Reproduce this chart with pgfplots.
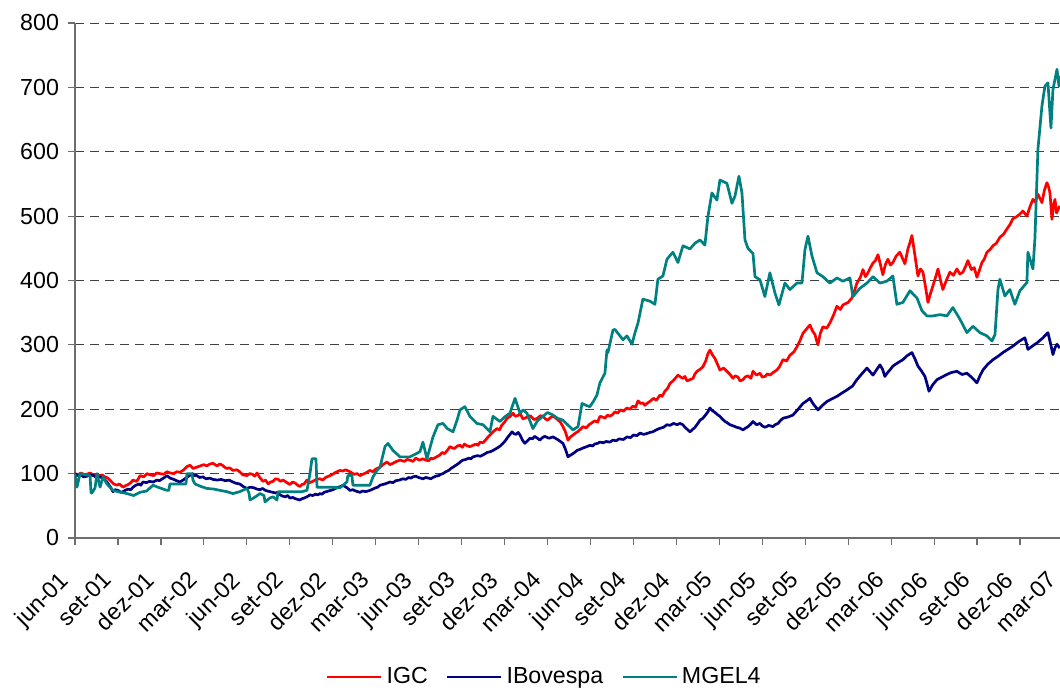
\documentclass[border=0pt]{standalone}
\usepackage{fontspec}
\setmainfont{Liberation Sans}
\usepackage{pgfplots}
\pgfplotsset{compat=1.18}
\definecolor{igc}{RGB}{255,0,0}
\definecolor{ibov}{RGB}{0,0,128}
\definecolor{mgel}{RGB}{0,128,128}
\definecolor{axgray}{RGB}{110,110,110}
\begin{document}
\begin{tikzpicture}
\path[use as bounding box] (-37.5pt,-77pt) rectangle (492.5pt,269pt);
\begin{axis}[
  scale only axis, width=494pt, height=257.5pt,
  xmin=0, xmax=69, ymin=0, ymax=800,
  axis lines*=left,
  axis line style={axgray, line width=0.6pt, -},
  tick style={axgray, line width=0.6pt},
  tick align=outside, major tick length=3.5pt,
  ytick={0,100,...,800},
  xtick={0,3,...,69},
  xticklabels={jun-01,set-01,dez-01,mar-02,jun-02,set-02,dez-02,mar-03,jun-03,set-03,dez-03,mar-04,jun-04,set-04,dez-04,mar-05,jun-05,set-05,dez-05,mar-06,jun-06,set-06,dez-06,mar-07},
  /pgf/number format/assume math mode=true,
  tick label style={font=\fontsize{11.6}{13}\selectfont},
  yticklabel style={xshift=-1pt},
  xticklabel style={xshift=-8.4pt, yshift=-10.8pt, rotate=45, anchor=north east, inner sep=1pt},
  ymajorgrids,
  major grid style={black!75, line width=0.5pt, dash pattern=on 4.5pt off 3pt},
  legend style={at={(0.476,-0.27)}, anchor=center, draw=none, fill=none,
    legend columns=-1, font=\fontsize{11.6}{13}\selectfont,
    /tikz/every even column/.append style={column sep=7pt}},
  legend image code/.code={\draw[#1] (0pt,0pt) -- (27pt,0pt);},
  every axis plot/.append style={line width=1.35pt, line join=round},
]
\addplot[igc] coordinates {
(0,100) (0.2,98) (0.4,101) (0.6,99) (0.84,99) (1.05,101) (1.3,98) (1.5,99) (1.75,97) (1.9,98) (2.1,95) (2.3,93) (2.44,90) (2.7,84) (2.93,82) (3.1,84) (3.35,79) (3.5,81) (3.7,83) (3.9,86)
(4.05,90) (4.3,88) (4.45,93) (4.54,97) (4.8,95) (5.03,100) (5.25,98) (5.5,97) (5.7,101) (5.94,100) (6.2,99) (6.42,103) (6.65,101) (6.9,100) (7.1,103) (7.33,102) (7.6,106) (7.82,111) (8.03,113) (8.25,108)
(8.5,110) (8.75,112) (9.0,114) (9.2,112) (9.43,115) (9.64,116) (9.92,112) (10.1,115) (10.3,113) (10.45,110) (10.61,108) (10.8,109) (11.03,105) (11.31,106) (11.5,103) (11.73,98) (12.01,97) (12.2,100) (12.4,99) (12.55,96)
(12.71,101) (12.9,94) (13.13,88) (13.3,90) (13.5,84) (13.65,87) (13.83,88) (14.0,92) (14.2,91) (14.35,88) (14.53,90) (14.8,86) (15.01,83) (15.2,87) (15.4,85) (15.55,82) (15.71,80) (15.85,83) (16.0,84) (16.2,90)
(16.4,86) (16.6,88) (16.85,91) (17.11,92) (17.3,90) (17.5,94) (17.81,97) (18.0,99) (18.2,102) (18.51,105) (18.7,104) (18.9,106) (19.2,103) (19.5,99) (19.7,100) (19.9,97) (20.1,99) (20.3,101) (20.6,105) (20.8,103)
(21.0,107) (21.3,110) (21.5,114) (21.79,118) (22.0,114) (22.2,116) (22.45,119) (22.7,121) (23.0,119) (23.2,122) (23.39,121) (23.6,119) (23.8,124) (24.05,121) (24.3,123) (24.5,121) (24.7,120) (24.85,124) (25.0,123) (25.25,126)
(25.49,129) (25.65,133) (25.8,131) (26.0,136) (26.19,142) (26.35,140) (26.5,139) (26.7,143) (26.89,144) (27.05,141) (27.2,146) (27.4,143) (27.58,142) (27.8,144) (28.0,146) (28.15,144) (28.28,149) (28.5,148) (28.7,153) (28.85,157)
(28.98,160) (29.2,165) (29.47,170) (29.65,168) (29.8,175) (30.0,180) (30.17,186) (30.4,189) (30.59,194) (30.75,189) (30.9,190) (31.1,193) (31.28,185) (31.5,187) (31.8,190) (32.05,184) (32.3,186) (32.5,190) (32.7,189) (32.85,185)
(33.0,183) (33.2,187) (33.38,189) (33.55,187) (33.7,184) (33.9,180) (34.08,173) (34.25,165) (34.43,152) (34.6,157) (34.78,160) (34.95,163) (35.1,165) (35.3,169) (35.47,173) (35.7,171) (35.9,176) (36.1,179) (36.3,182) (36.5,180)
(36.66,189) (36.85,188) (37.0,186) (37.2,191) (37.36,189) (37.55,192) (37.71,196) (37.9,194) (38.1,199) (38.3,197) (38.55,202) (38.75,200) (38.97,205) (39.15,203) (39.32,213) (39.5,209) (39.66,210) (39.8,206) (39.94,209) (40.2,213)
(40.4,217) (40.6,214) (40.85,222) (41.0,220) (41.2,228) (41.4,233) (41.55,240) (41.8,245) (42.11,253) (42.3,250) (42.46,248) (42.6,251) (42.74,244) (42.95,246) (43.16,248) (43.3,255) (43.44,259) (43.65,262) (43.85,266) (44.05,275)
(44.2,286) (44.34,292) (44.5,285) (44.69,279) (44.85,271) (45.04,261) (45.3,264) (45.53,259) (45.75,254) (45.95,248) (46.1,252) (46.3,250) (46.45,244) (46.65,246) (46.8,250) (47.0,252) (47.2,248) (47.35,259) (47.6,253) (47.84,256)
(48.0,250) (48.2,251) (48.35,255) (48.53,253) (48.75,257) (49.02,261) (49.2,266) (49.44,277) (49.7,275) (49.93,284) (50.2,289) (50.42,297) (50.6,305) (50.84,318) (51.1,325) (51.33,331) (51.5,322) (51.68,316) (51.8,306) (51.89,300)
(52.05,318) (52.23,328) (52.5,326) (52.72,334) (52.95,345) (53.21,360) (53.45,355) (53.63,362) (54.0,366) (54.26,373) (54.45,385) (54.61,396) (54.85,405) (55.03,417) (55.2,406) (55.38,412) (55.55,420) (55.73,427) (55.9,431) (56.08,440)
(56.25,425) (56.42,409) (56.6,425) (56.77,433) (56.95,424) (57.12,428) (57.35,438) (57.61,444) (57.8,434) (57.96,426) (58.17,449) (58.3,458) (58.45,470) (58.66,439) (58.87,407) (59.05,418) (59.22,413) (59.4,390) (59.57,366) (59.75,380)
(59.92,392) (60.1,405) (60.27,418) (60.45,400) (60.61,386) (60.85,400) (61.1,413) (61.35,408) (61.59,418) (61.8,410) (62.01,413) (62.2,422) (62.36,431) (62.6,417) (62.8,420) (62.99,405) (63.15,415) (63.34,428) (63.5,433) (63.69,444)
(63.9,448) (64.11,454) (64.35,458) (64.59,467) (64.85,472) (65.08,480) (65.3,487) (65.5,496) (65.75,499) (65.99,503) (66.2,508) (66.48,500) (66.7,515) (66.9,526) (67.05,522) (67.25,534) (67.4,527) (67.53,521) (67.7,540) (67.88,552)
(68.0,545) (68.09,536) (68.23,495) (68.35,518) (68.44,526) (68.55,505) (68.65,510) (68.78,516)
};
\addlegendentry{IGC}
\addplot[ibov] coordinates {
(0,100) (0.2,97) (0.4,98) (0.6,95) (0.84,96) (1.05,98) (1.3,97) (1.5,94) (1.75,95) (2.0,92) (2.23,87) (2.45,80) (2.65,72) (2.8,75) (3.0,74) (3.2,71) (3.35,72) (3.5,74) (3.7,76) (3.9,75)
(4.05,79) (4.25,82) (4.5,84) (4.6,82) (4.75,87) (5.0,86) (5.2,88) (5.45,87) (5.73,90) (5.9,89) (6.1,92) (6.25,94) (6.42,97) (6.65,93) (6.9,91) (7.1,89) (7.33,87) (7.55,90) (7.8,94) (8.0,97)
(8.24,100) (8.35,97) (8.5,97) (8.7,94) (8.94,95) (9.15,92) (9.4,93) (9.65,91) (9.92,90) (10.2,91) (10.5,89) (10.75,90) (11.03,87) (11.25,85) (11.5,84) (11.75,80) (12.01,77) (12.25,79) (12.5,78) (12.7,76)
(12.92,75) (13.1,77) (13.3,74) (13.45,73) (13.62,72) (13.8,71) (14.0,70) (14.15,71) (14.32,67) (14.5,65) (14.7,64) (14.85,66) (15.01,62) (15.2,63) (15.4,61) (15.55,60) (15.71,59) (15.85,61) (16.0,62) (16.2,64)
(16.41,67) (16.6,66) (16.8,68) (16.95,67) (17.11,69) (17.25,68) (17.4,71) (17.7,73) (18.02,75) (18.2,77) (18.4,79) (18.55,80) (18.72,82) (18.85,80) (19.0,78) (19.2,74) (19.4,75) (19.6,73) (19.75,72) (19.9,71)
(20.1,73) (20.3,72) (20.45,73) (20.6,74) (20.8,76) (21.0,78) (21.15,79) (21.3,82) (21.65,84) (22.0,87) (22.2,86) (22.4,89) (22.65,90) (22.91,92) (23.1,91) (23.3,94) (23.45,93) (23.6,95) (23.8,96) (24.0,94)
(24.15,93) (24.3,92) (24.5,94) (24.7,93) (24.85,92) (25.0,94) (25.2,96) (25.4,97) (25.55,99) (25.7,100) (25.9,103) (26.1,105) (26.25,108) (26.4,110) (26.6,113) (26.8,116) (26.95,119) (27.09,121) (27.3,122) (27.5,124)
(27.65,123) (27.79,126) (27.95,127) (28.1,128) (28.3,127) (28.49,129) (28.65,131) (28.8,133) (29.0,134) (29.19,136) (29.35,138) (29.5,140) (29.7,143) (29.89,147) (30.05,151) (30.2,156) (30.35,160) (30.52,165) (30.65,162) (30.8,161)
(30.95,164) (31.08,160) (31.25,152) (31.42,147) (31.6,151) (31.77,155) (31.95,154) (32.1,158) (32.3,155) (32.47,152) (32.65,156) (32.8,158) (33.1,155) (33.38,157) (33.55,155) (33.7,153) (33.9,150) (34.08,147) (34.25,138) (34.43,126)
(34.55,128) (34.7,130) (34.9,133) (35.06,136) (35.3,138) (35.5,140) (35.75,142) (35.96,144) (36.15,143) (36.3,146) (36.5,147) (36.66,149) (36.9,148) (37.1,150) (37.35,149) (37.57,152) (37.8,151) (38.0,154) (38.3,153) (38.55,157)
(38.8,156) (39.0,160) (39.25,159) (39.46,163) (39.7,161) (39.9,162) (40.15,164) (40.36,165) (40.6,168) (40.8,170) (41.1,172) (41.34,176) (41.55,175) (41.8,178) (42.05,176) (42.25,178) (42.45,176) (42.6,172) (42.8,168) (42.95,165)
(43.1,168) (43.3,172) (43.5,178) (43.65,183) (43.85,186) (44.0,190) (44.2,196) (44.34,202) (44.5,198) (44.7,195) (44.85,192) (45.04,189) (45.2,185) (45.4,181) (45.55,179) (45.74,176) (46.0,174) (46.2,172) (46.4,171) (46.65,168)
(46.85,171) (47.0,173) (47.2,177) (47.35,181) (47.6,176) (47.84,178) (48.0,174) (48.2,172) (48.45,175) (48.74,173) (48.9,176) (49.1,178) (49.25,182) (49.44,186) (49.8,188) (50.14,191) (50.3,195) (50.5,200) (50.65,204) (50.84,209)
(51.1,213) (51.33,217) (51.45,212) (51.6,207) (51.75,203) (51.89,199) (52.2,206) (52.51,212) (52.85,216) (53.21,220) (53.55,225) (53.91,230) (54.1,233) (54.3,236) (54.45,241) (54.61,246) (54.95,255) (55.31,264) (55.5,259) (55.73,253)
(56.0,262) (56.22,269) (56.4,262) (56.56,251) (56.75,257) (56.91,261) (57.12,267) (57.45,272) (57.82,277) (58.1,283) (58.45,288) (58.65,279) (58.87,267) (59.1,260) (59.36,251) (59.5,240) (59.64,228) (59.9,238) (60.2,246) (60.55,250)
(60.89,254) (61.2,257) (61.59,259) (61.95,254) (62.29,256) (62.65,249) (62.99,241) (63.2,252) (63.41,261) (63.75,270) (64.11,277) (64.45,282) (64.8,288) (65.15,293) (65.5,298) (65.9,305) (66.34,311) (66.45,302) (66.55,293) (66.85,298)
(67.18,303) (67.55,310) (67.95,319) (68.1,305) (68.3,285) (68.45,296) (68.58,301) (68.78,295)
};
\addlegendentry{IBovespa}
\addplot[mgel] coordinates {
(0,100) (0.14,79) (0.35,100) (1.05,97) (1.12,70) (1.19,70) (1.4,78) (1.54,100) (1.75,79) (1.96,95)
(2.23,84) (2.65,74) (3.0,72) (3.63,69) (4.1,66) (4.54,71) (5.0,73) (5.45,82) (5.9,78) (6.42,74)
(6.55,74) (6.63,84) (7.54,84) (7.75,84) (7.82,100) (8.17,100) (8.24,90) (8.38,84) (8.8,80) (9.22,77)
(9.7,76) (10.13,74) (10.6,72) (11.03,69) (11.5,72) (12.01,77) (12.15,70) (12.22,59) (12.6,64) (12.92,69)
(13.2,66) (13.27,56) (13.6,62) (13.83,64) (14.11,59) (14.18,72) (15.01,72) (15.85,72) (16.2,74) (16.41,100)
(16.55,123) (16.83,123) (16.9,79) (17.81,79) (18.5,78) (18.99,87) (19.06,97) (19.34,97) (19.41,82) (20.6,82)
(20.81,95) (21.09,105) (21.3,110) (21.65,142) (21.86,147) (22.21,136) (22.7,126) (23.39,126) (24.09,134) (24.3,149)
(24.58,123) (25.0,157) (25.35,176) (25.7,178) (26.0,170) (26.4,165) (26.68,183) (26.89,199) (27.23,204) (27.58,189) (28.07,178)
(28.49,176) (28.98,165) (29.19,189) (29.68,181) (30.0,188) (30.38,194) (30.73,217) (31.08,194) (31.3,199) (31.56,194) (31.98,170) (32.3,182) (32.68,189)
(33.0,195) (33.38,191) (33.7,186) (34.08,183) (34.4,176) (34.78,168) (35.13,173) (35.41,209) (35.7,206) (35.96,204) (36.2,212) (36.45,222) (36.66,241) (37.01,256) (37.15,292)
(37.22,288) (37.57,323) (37.71,324) (38.06,314) (38.27,308) (38.55,314) (38.9,301) (39.11,319) (39.32,334) (39.66,371)
(40.15,368) (40.5,363) (40.71,402) (41.06,407) (41.34,433) (41.76,444) (42.11,428) (42.46,454) (42.95,449) (43.3,458)
(43.65,463) (43.99,455) (44.2,499) (44.48,536) (44.83,525) (45.04,556) (45.53,551) (45.88,520) (46.09,531) (46.37,562)
(46.58,536) (46.79,463) (47.0,450) (47.35,442) (47.49,406) (47.84,401) (48.18,375) (48.53,412) (48.88,381) (49.16,362)
(49.58,396) (49.93,386) (50.42,396) (50.77,396) (50.98,448) (51.19,469) (51.47,438) (51.82,412) (52.23,406) (52.72,396)
(53.21,404) (53.63,399) (54.12,404) (54.33,375) (54.82,388) (55.31,396) (55.73,406) (56.22,396) (56.7,399) (57.12,407)
(57.4,363) (57.82,366) (58.31,384) (58.8,373) (59.15,353) (59.5,345) (59.92,345) (60.41,347) (60.89,345) (61.31,358)
(61.8,340) (62.29,319) (62.71,329) (63.2,319) (63.69,314) (64.04,306) (64.25,316) (64.46,386) (64.59,402) (64.94,376)
(65.29,386) (65.64,363) (65.99,384) (66.48,397) (66.55,444) (66.9,418) (67.04,465) (67.25,604) (67.53,671) (67.74,702)
(67.95,707) (68.16,637) (68.3,697) (68.58,728) (68.72,702) (68.78,718)
};
\addlegendentry{MGEL4}
\end{axis}
\end{tikzpicture}
\end{document}
